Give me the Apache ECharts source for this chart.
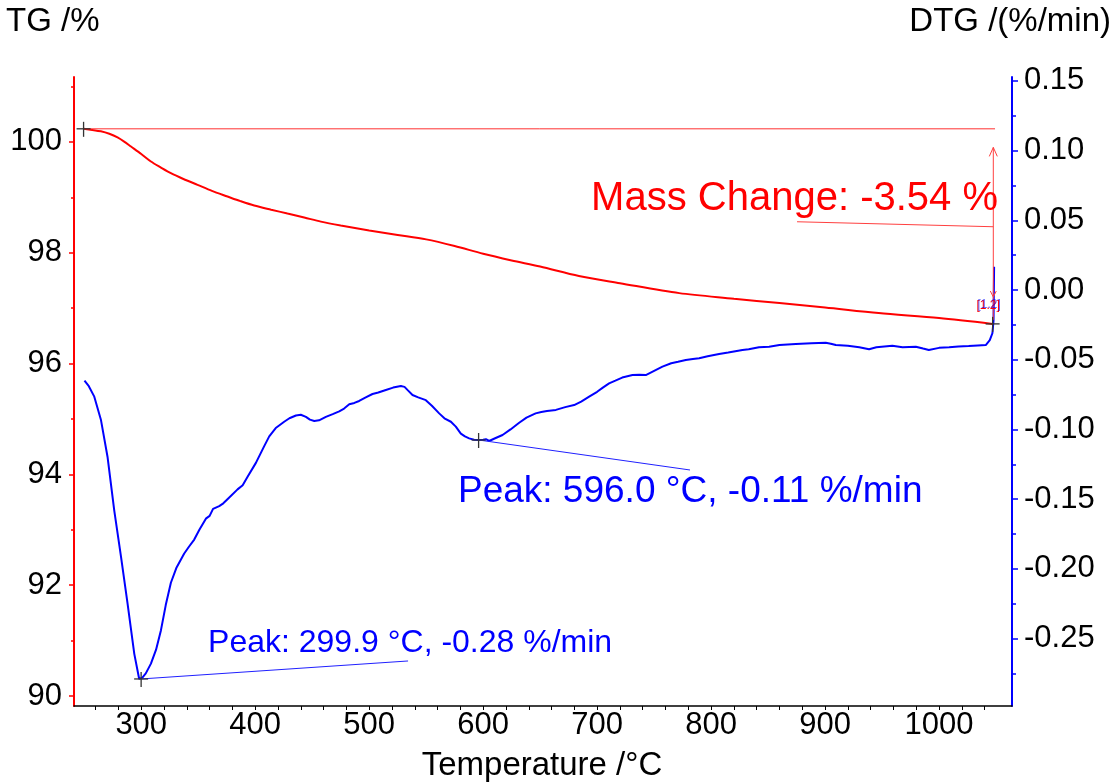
<!DOCTYPE html>
<html><head><meta charset="utf-8">
<script src="https://cdn.jsdelivr.net/npm/echarts@6/dist/echarts.min.js"></script>
<style>html,body{margin:0;padding:0;background:#fff}#c{width:1118px;height:784px}</style>
</head><body><div id="c"></div>
<script>
// ---- data ----
const TG_T = [249.4,257,264.6,272,279.2,285,291,300,308.5,317,326,337,349.4,362,375.7,387,399.1,414,428.3,443,457.6,475,500,525,550,575,600,625,650,684,720,772,820,860,900,947,1000,1047];
const TG_V = [100.235,100.215,100.19,100.145,100.08,100.005,99.915,99.78,99.645,99.54,99.435,99.33,99.224,99.115,99.013,98.93,98.85,98.775,98.706,98.635,98.56,98.49,98.40,98.32,98.24,98.12,97.98,97.86,97.75,97.58,97.45,97.27,97.17,97.09,97.01,96.91,96.82,96.715];

const DTG_T = [250.2,254,258.8,264.6,270.4,276.3,282.2,288,293.9,298.2,301,304,308.5,313,317.3,321.5,326,331,337.7,342,346.5,351,356.7,360,363,368.4,372,377,384.5,389,393.3,400.6,407.9,412.3,418,425.4,430,435.7,440,444.5,448,451.8,456,462,468,473.7,478,482.5,487,491.2,497,502.9,508,514.6,521,527.8,531,534,538,543,549.7,555,561.4,566,571.7,576,580.4,584,587.7,592,596,600,602.4,605.3,610,617,624,631.6,638,646,651,656,663.8,672,679.8,686,693,700,705,710.5,716,722,731,737,742.7,750,757.3,765,771,777.8,784,789.5,797,807,815,827.5,833,842,850.9,860,874.3,888,900.6,905,909.4,920,930,938.6,945,952,959,968,979.6,986,991,1000,1008.8,1017,1026,1034,1041,1044.5,1046.8,1047.8,1048.3];
const DTG_V = [-0.065,-0.069,-0.0765,-0.093,-0.1196,-0.158,-0.191,-0.225,-0.261,-0.279,-0.278,-0.275,-0.268,-0.258,-0.244,-0.226,-0.210,-0.199,-0.189,-0.184,-0.179,-0.172,-0.164,-0.162,-0.157,-0.155,-0.153,-0.149,-0.143,-0.140,-0.134,-0.124,-0.112,-0.105,-0.099,-0.0945,-0.092,-0.090,-0.0895,-0.091,-0.093,-0.094,-0.0935,-0.091,-0.089,-0.087,-0.085,-0.082,-0.081,-0.0796,-0.077,-0.0746,-0.0735,-0.0717,-0.070,-0.0689,-0.0695,-0.072,-0.0753,-0.077,-0.079,-0.083,-0.0885,-0.092,-0.0945,-0.098,-0.103,-0.105,-0.1064,-0.1074,-0.1076,-0.1074,-0.107,-0.1083,-0.1065,-0.104,-0.100,-0.0952,-0.0915,-0.0885,-0.0875,-0.0868,-0.086,-0.084,-0.0825,-0.080,-0.0765,-0.073,-0.070,-0.067,-0.065,-0.0628,-0.061,-0.0608,-0.061,-0.058,-0.055,-0.0525,-0.0515,-0.0502,-0.0495,-0.049,-0.0475,-0.0459,-0.0448,-0.043,-0.0425,-0.041,-0.0407,-0.0395,-0.0387,-0.0382,-0.0378,-0.0385,-0.0395,-0.040,-0.041,-0.0425,-0.041,-0.0405,-0.040,-0.041,-0.0407,-0.042,-0.043,-0.0415,-0.041,-0.0405,-0.0402,-0.0398,-0.0395,-0.036,-0.031,-0.022,0.0167];

const X_LABELS = [300,400,500,600,700,800,900,1000];
const X_TICKS = [260,280,300,320,340,360,380,400,420,440,460,480,500,520,540,560,580,600,620,640,660,680,700,720,740,760,780,800,820,840,860,880,900,920,940,960,980,1000,1020,1040];
const TG_LABELS = [90,92,94,96,98,100];
const TG_MINOR = [91,93,95,97,99,101];
const DTG_LABELS = [-0.25,-0.20,-0.15,-0.10,-0.05,0,0.05,0.10,0.15];
const DTG_MINOR = [-0.275,-0.225,-0.175,-0.125,-0.075,-0.025,0.025,0.075,0.125];

// annotations (data coordinates)
const PEAK1 = {t:299.9, v:-0.279, text:'Peak: 299.9 °C, -0.28 %/min', lt:534.1, lv:-0.2661, tt:358.6, tv:-0.2532};
const PEAK2 = {t:596.0, v:-0.1076, text:'Peak: 596.0 °C, -0.11 %/min', lt:781.5, lv:-0.1291, tt:577.9, tv:-0.1449};
const MASS = {t0:249.4, v0:100.235, t1:1047, v1:96.715, text:'Mass Change: -3.54 %', vt:1047.6, vtop:99.90, lt:875.4, lv:98.558, lv2:98.468, tt:1051.7, tv:98.968, hEnd:1049.1};

const FONT = '"Liberation Sans", Arial, sans-serif';
const chart = echarts.init(document.getElementById('c'), null, {renderer:'canvas'});
const X_MIN = 241, X_MAX = 1064;
const TG_MIN = 89.82, TG_MAX = 101.17;
const D_MIN = -0.2984, D_MAX = 0.1528;

chart.setOption({
  animation:false,
  backgroundColor:'#fff',
  grid:{left:74, right:106, top:77, bottom:78},
  xAxis:[{
    type:'value', min:X_MIN, max:X_MAX, position:'bottom',
    axisLine:{onZero:false, lineStyle:{color:'#000', width:1.5}},
    axisTick:{customValues:X_TICKS, length:4, lineStyle:{color:'#000', width:1}},
    axisLabel:{customValues:X_LABELS, color:'#000', fontSize:31, fontFamily:FONT, margin:4, formatter:v=>String(v)},
    splitLine:{show:false}
  }],
  yAxis:[{
    type:'value', min:TG_MIN, max:TG_MAX, position:'left',
    axisLine:{show:true, onZero:false, lineStyle:{color:'#ff0000', width:2}},
    axisTick:{show:true, customValues:TG_LABELS, length:5, lineStyle:{color:'#ff0000', width:1.5}},
    axisLabel:{customValues:TG_LABELS, color:'#000', fontSize:31, fontFamily:FONT, margin:12, formatter:v=>String(v)},
    splitLine:{show:false}
  },{
    type:'value', min:D_MIN, max:D_MAX, position:'right',
    axisLine:{show:true, onZero:false, lineStyle:{color:'#0000ff', width:2}},
    axisTick:{show:true, customValues:DTG_LABELS, length:6, lineStyle:{color:'#0000ff', width:1.5}},
    axisLabel:{customValues:DTG_LABELS, color:'#000', fontSize:31, fontFamily:FONT, margin:12,
      formatter:v=>v.toFixed(2)},
    splitLine:{show:false}
  },{
    type:'value', min:TG_MIN, max:TG_MAX, position:'left',
    axisLine:{show:false, onZero:false},
    axisTick:{show:true, customValues:TG_MINOR, length:3, lineStyle:{color:'#ff0000', width:1.5}},
    axisLabel:{show:false}, splitLine:{show:false}
  },{
    type:'value', min:D_MIN, max:D_MAX, position:'right',
    axisLine:{show:false, onZero:false},
    axisTick:{show:true, customValues:DTG_MINOR, length:4, lineStyle:{color:'#0000ff', width:1.5}},
    axisLabel:{show:false}, splitLine:{show:false}
  }],
  series:[{
    type:'line', name:'TG', xAxisIndex:0, yAxisIndex:0, showSymbol:false, smooth:0.3,
    data:TG_T.map((t,i)=>[t,TG_V[i]]),
    lineStyle:{color:'#ff0000', width:2}, itemStyle:{color:'#ff0000'}, z:3
  },{
    type:'line', name:'DTG', xAxisIndex:0, yAxisIndex:1, showSymbol:false,
    data:DTG_T.map((t,i)=>[t,DTG_V[i]]),
    lineStyle:{color:'#0000ff', width:2}, itemStyle:{color:'#0000ff'}, z:3
  }]
});

const P = (t,v,yi)=>chart.convertToPixel({xAxisIndex:0, yAxisIndex:yi}, [t,v]);
const g = [];
function line(a,b,color,w){ g.push({type:'line', shape:{x1:a[0],y1:a[1],x2:b[0],y2:b[1]}, style:{stroke:color, lineWidth:w||1}, z:5}); }
function cross(p){ line([p[0]-7,p[1]],[p[0]+7,p[1]],'#333',1.3); line([p[0],p[1]-7],[p[0],p[1]+8],'#333',1.3); }
function text(p,s,color,size,align){ g.push({type:'text', x:p[0], y:p[1], style:{text:s, fill:color, fontSize:size, fontFamily:FONT, align:align||'left', verticalAlign:'middle'}, z:6}); }

// titles
text([6,22],'TG /%','#000',33,'left');
text([1111,22],'DTG /(%/min)','#000',33,'right');
text([542,766],'Temperature /°C','#000',33,'center');

// mass change
const m0 = P(MASS.t0, MASS.v0, 0), m1 = P(MASS.t1, MASS.v1, 0);
line(m0, P(MASS.hEnd, MASS.v0, 0), '#ff3030', 1);
const vx = P(MASS.vt, MASS.vtop, 0), vb = P(MASS.vt, MASS.v1, 0);
line(vx, [vx[0], vb[1]-4], '#ff4040', 1);
g.push({type:'polyline', shape:{points:[[vx[0]-4,vx[1]+9],[vx[0],vx[1]],[vx[0]+4,vx[1]+9]]}, style:{stroke:'#ff4040', lineWidth:1, fill:null}, z:5});
const va = P(MASS.vt, 97.2, 0);
g.push({type:'polyline', shape:{points:[[va[0]-3,va[1]-6],[va[0],va[1]],[va[0]+3,va[1]-6]]}, style:{stroke:'#ff4040', lineWidth:1, fill:null}, z:5});
line(P(MASS.lt, MASS.lv, 0), P(MASS.vt, MASS.lv2, 0), '#ff4040', 1);
text(P(MASS.tt, MASS.tv, 0), MASS.text, '#ff0000', 40, 'right');
const lb = P(1043, 97.04, 0);
text(lb, '[1.2]', '#ff0000', 12, 'center');
text([lb[0]+1, lb[1]-1], '[1.2]', 'rgba(0,0,255,0.6)', 12, 'center');
cross(m0); cross(m1);

// peaks
[PEAK1, PEAK2].forEach((pk,i)=>{
  const a = P(pk.t, pk.v, 1), b = P(pk.lt, pk.lv, 1);
  line(a, b, '#2020ff', 1);
  cross(a);
  text(P(pk.tt, pk.tv, 1), pk.text, '#0000ff', i===0?32:37, 'left');
});

chart.setOption({graphic:g});
</script></body></html>
